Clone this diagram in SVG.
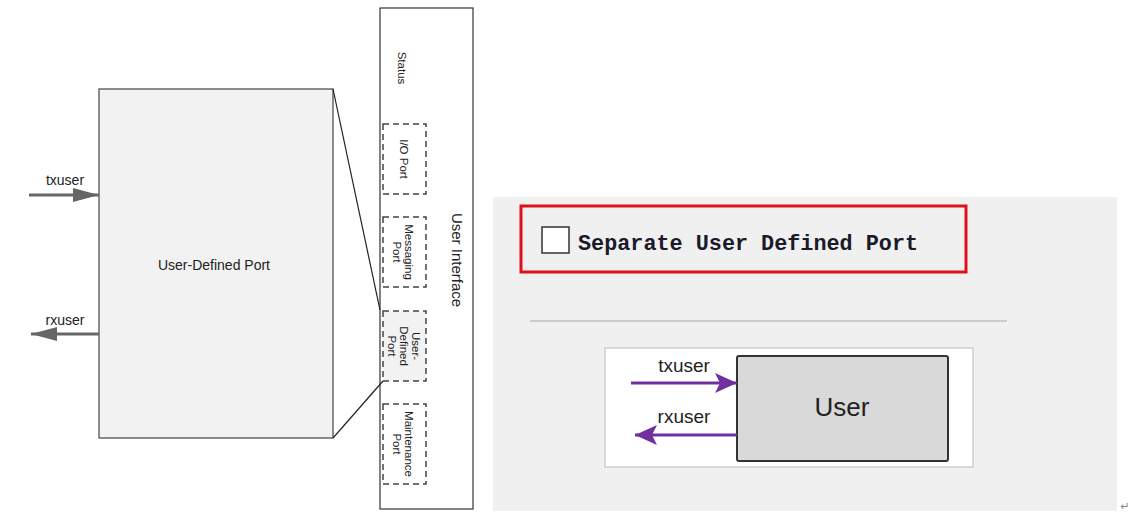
<svg xmlns="http://www.w3.org/2000/svg" width="1130" height="519" viewBox="0 0 1130 519">
<style>
.lbl{font-family:"Liberation Sans",Arial,sans-serif;fill:#222}
.sm{font-size:11.5px}
.dash{fill:none;stroke:#444;stroke-width:1.5;stroke-dasharray:6 4}
.garrow{stroke:#666;stroke-width:3;fill:none}
.parrow{stroke:#7030a0;stroke-width:3;fill:none}
</style>
<defs>
<marker id="ga" markerUnits="userSpaceOnUse" markerWidth="26" markerHeight="14" refX="26" refY="7" orient="auto"><path d="M0,0 L26,7 L0,14 Z" fill="#666"/></marker>
<marker id="pa" markerUnits="userSpaceOnUse" markerWidth="22" markerHeight="20" refX="22" refY="10" orient="auto"><path d="M0,0 L22,10 L0,20 L5,10 Z" fill="#7030a0"/></marker>
</defs>
<rect width="1130" height="519" fill="#fff"/>

<g id="udp">
<rect x="99" y="89" width="234" height="349" fill="#f2f2f2" stroke="#444" stroke-width="1.2"/>
<text class="lbl" x="214" y="270" font-size="14" text-anchor="middle">User-Defined Port</text>
</g>

<g id="ui">
<rect x="380" y="8" width="93" height="501" fill="#fff" stroke="#333" stroke-width="1.2"/>
<text class="lbl" font-size="15" text-anchor="middle" transform="translate(452,260) rotate(90)">User Interface</text>
<text class="lbl sm" text-anchor="middle" transform="translate(398,68) rotate(90)">Status</text>
</g>
<g id="io">
<rect class="dash" x="383" y="124" width="43" height="70"/>
<text class="lbl sm" text-anchor="middle" transform="translate(400,159) rotate(90)">I/O Port</text>
</g>
<g id="msg">
<rect class="dash" x="383" y="217" width="43" height="70"/>
<text class="lbl sm" text-anchor="middle" transform="translate(405,252) rotate(90)"><tspan x="0" y="0">Messaging</tspan><tspan x="0" y="12">Port</tspan></text>
</g>
<g id="udp2">
<rect class="dash" x="383" y="311" width="43" height="70" style="fill:#f2f2f2"/>
<text class="lbl sm" text-anchor="middle" transform="translate(412,346) rotate(90)"><tspan x="0" y="0">User-</tspan><tspan x="0" y="12">Defined</tspan><tspan x="0" y="24">Port</tspan></text>
</g>
<g id="maint">
<rect class="dash" x="383" y="404" width="43" height="80"/>
<text class="lbl sm" text-anchor="middle" transform="translate(405,444) rotate(90)"><tspan x="0" y="0">Maintenance</tspan><tspan x="0" y="12">Port</tspan></text>
</g>

<text class="lbl" x="65" y="185" font-size="14" text-anchor="middle">txuser</text>
<text class="lbl" x="65" y="325" font-size="14" text-anchor="middle">rxuser</text>

<g id="panel">
<rect x="493" y="197" width="624" height="314" fill="#f0f0f0"/>
<rect x="521" y="206" width="445" height="66" fill="none" stroke="#e0101a" stroke-width="3"/>
<rect x="542" y="227" width="27" height="26" fill="#fff" stroke="#333" stroke-width="1.5"/>
<text x="578" y="250" font-family="'Liberation Mono','DejaVu Sans Mono',monospace" font-weight="bold" font-size="21.8" fill="#1a1a2a">Separate User Defined Port</text>
<line x1="530" y1="321" x2="1007" y2="321" stroke="#c0c0c0" stroke-width="1.5"/>
<rect x="605" y="348" width="368" height="119" fill="#fff" stroke="#d0d0d0" stroke-width="1.5"/>
</g>
<g id="user">
<rect x="737" y="356" width="211" height="105" rx="2" fill="#d9d9d9" stroke="#333" stroke-width="2"/>
<text class="lbl" x="842" y="416" font-size="26" text-anchor="middle" fill="#333">User</text>
</g>
<text class="lbl" x="684" y="372" font-size="19" text-anchor="middle" fill="#333">txuser</text>
<text class="lbl" x="684" y="423" font-size="19" text-anchor="middle" fill="#333">rxuser</text>

<g id="connectors">
<line x1="333" y1="89" x2="380" y2="310" stroke="#222" stroke-width="1.2"/>
<line x1="333" y1="438" x2="383" y2="381" stroke="#222" stroke-width="1.2"/>
<line class="garrow" x1="29" y1="195" x2="99" y2="195" marker-end="url(#ga)"/>
<line class="garrow" x1="99" y1="334" x2="31" y2="334" marker-end="url(#ga)"/>
<line class="parrow" x1="631" y1="383" x2="737" y2="383" marker-end="url(#pa)"/>
<line class="parrow" x1="737" y1="435" x2="635" y2="435" marker-end="url(#pa)"/>
</g>
<text x="1125" y="510" font-family="'DejaVu Sans',sans-serif" font-size="11" fill="#888" text-anchor="middle">↵</text>
</svg>
